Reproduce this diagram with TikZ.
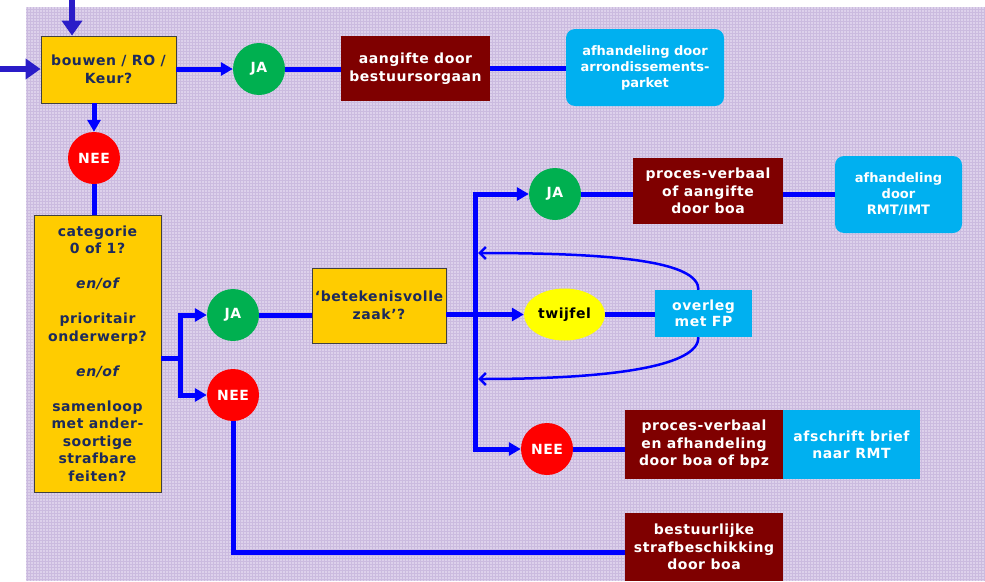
\documentclass[tikz,border=0pt]{standalone}
\usepackage{fontspec}
\setmainfont{DejaVu Sans}
\newfontfamily\widefont[LetterSpace=4]{DejaVu Sans}
\usetikzlibrary{arrows.meta,calc,shapes.geometric}

\definecolor{qyellow}{HTML}{FFCC00}
\definecolor{qnavy}{HTML}{1C2A5C}
\definecolor{qmaroon}{HTML}{7F0000}
\definecolor{qblue}{HTML}{00B0F0}
\definecolor{qgreen}{HTML}{00B050}
\definecolor{qred}{HTML}{FF0000}
\definecolor{qtwijfel}{HTML}{FFFF00}
\definecolor{qline}{HTML}{0000FF}
\definecolor{qindigo}{HTML}{2A1CC8}
\definecolor{bgpurple}{HTML}{DDD1EB}
\definecolor{bggrid}{HTML}{CBBBDF}

\begin{document}
\begin{tikzpicture}[x=1pt,y=-1pt,
  ybox/.style={draw=black!75, line width=0.8pt, fill=qyellow, text=qnavy,
    font=\widefont\bfseries\fontsize{14}{17.5}\selectfont, align=center, inner sep=0pt},
  rbox/.style={fill=qmaroon, text=white,
    font=\widefont\bfseries\fontsize{14}{17.5}\selectfont, align=center, inner sep=0pt},
  bbox/.style={fill=qblue, text=white,
    font=\bfseries\fontsize{13}{16}\selectfont, align=center, inner sep=0pt},
  dot/.style={circle, minimum size=52pt, inner sep=0pt, text=white,
    font=\widefont\bfseries\fontsize{14}{16}\selectfont},
  yes/.style={dot, fill=qgreen},
  no/.style={dot, fill=qred},
  conn/.style={draw=qline, line width=5pt},
  arr/.style={conn, -{Triangle[length=12pt,width=13pt]}},
  loopback/.style={draw=qline, line width=2.5pt, -{Straight Barb[length=6pt,width=12pt]}},
  entry/.style={draw=qindigo, line width=6.5pt, -{Triangle[length=15pt,width=20pt]}}
]
\useasboundingbox (0,0) rectangle (985,581);

% background panel with fine plaid
\fill[white] (0,0) rectangle (985,581);
\fill[bgpurple] (26,7) rectangle (985,581);
\begin{scope}
  \clip (26,7) rectangle (985,581);
  \draw[bggrid, line width=0.5pt, step=3pt] (26,7) grid (985,581);
\end{scope}

% ---- nodes ----
\node[ybox, minimum width=135pt, minimum height=67pt] (q1) at (108.5,69.5)
  {bouwen / RO /\\Keur?};
\node[yes] (ja1) at (259,69) {JA};
\node[rbox, minimum width=149pt, minimum height=65pt] (aang) at (415.5,68.5)
  {aangifte door\\bestuursorgaan};
\node[bbox, rounded corners=9pt, minimum width=158pt, minimum height=77pt] (parket) at (645,67.5)
  {afhandeling door\\arrondissements-\\parket};

\node[no] (nee1) at (94,158) {NEE};

\node[ybox, minimum width=127pt, minimum height=277pt] (cat) at (97.5,353.5)
  {categorie\\0 of 1?\\[17.5pt]{\itshape en/of}\\[17.5pt]prioritair\\onderwerp?\\[17.5pt]%
   {\itshape en/of}\\[17.5pt]samenloop\\met ander-\\soortige\\strafbare\\feiten?};

\coordinate (fk) at (180,358);
\node[yes] (ja2) at (233,315) {JA};
\node[no] (nee2) at (233,395) {NEE};

\node[ybox, minimum width=134pt, minimum height=75pt] (bz) at (379,305.5)
  {‘betekenisvolle\\zaak’?};

\coordinate (vx) at (475,0);
\node[yes] (ja3) at (555,194) {JA};
\node[ellipse, fill=qtwijfel, minimum width=81pt, minimum height=52pt, inner sep=0pt,
      font=\widefont\bfseries\fontsize{14}{16}\selectfont, text=black] (tw) at (564.5,314.5) {twijfel};
\node[no] (nee3) at (547,449) {NEE};

\node[rbox, minimum width=150pt, minimum height=66pt] (pv1) at (708,191)
  {proces-verbaal\\of aangifte\\door boa};
\node[bbox, rounded corners=9pt, minimum width=127pt, minimum height=77pt] (rmt) at (898.5,194.5)
  {afhandeling\\door\\RMT/IMT};

\node[bbox, minimum width=97pt, minimum height=47pt, font=\widefont\bfseries\fontsize{14}{16.5}\selectfont]
  (ov) at (703.5,313.5) {overleg\\met FP};

\node[rbox, minimum width=158pt, minimum height=69pt] (pv2) at (704,444.5)
  {proces-verbaal\\en afhandeling\\door boa of bpz};
\node[bbox, minimum width=137pt, minimum height=69pt, font=\widefont\bfseries\fontsize{14}{17}\selectfont]
  (afs) at (851.5,444.5) {afschrift brief\\naar RMT};

\node[rbox, minimum width=158pt, minimum height=68pt] (bsb) at (704,547)
  {bestuurlijke\\strafbeschikking\\door boa};

\coordinate (lp1) at (478,253);
\coordinate (lp2) at (478,379);
\coordinate (in0) at (72,0);
\coordinate (in1) at (0,69);

% ---- connectors ----
\draw[entry] (in0) -- (in0 |- q1.north);
\draw[entry] (in1) -- (in1 -| q1.west);

\draw[arr] (q1.east |- ja1) -- (ja1.west);
\draw[conn] (ja1.east) -- (ja1.east -| aang.west);
\draw[conn] (aang.east) -- (aang.east -| parket.west);

\draw[arr] (nee1 |- q1.south) -- (nee1.north);
\draw[conn] (nee1.south) -- (nee1 |- cat.north);

\draw[conn] (cat.east |- fk) -- (fk);
\draw[arr, line cap=rect] (fk) |- (ja2.west);
\draw[arr, line cap=rect] (fk) |- (nee2.west);

\draw[conn] (ja2.east) -- (ja2.east -| bz.west);
\draw[arr] (bz.east |- tw) -- (tw.west);

\draw[conn, line cap=rect] (vx |- ja3) -- (vx |- nee3);
\draw[arr] (vx |- ja3) -- (ja3.west);
\draw[arr] (vx |- nee3) -- (nee3.west);

\draw[conn] (ja3.east) -- (ja3.east -| pv1.west);
\draw[conn] (pv1.east |- rmt) -- (rmt.west);
\draw[conn] (tw.east) -- (tw.east -| ov.west);
\draw[conn] (nee3.east) -- (nee3.east -| pv2.west);

\draw[loopback] ([xshift=-5pt]ov.north) .. controls +(0,-28) and +(140,0) .. (lp1);
\draw[loopback] ([xshift=-5pt]ov.south) .. controls +(0,28) and +(140,0) .. (lp2);

\draw[conn] (nee2.south) |- ([yshift=-5pt]bsb.west);
\end{tikzpicture}
\end{document}
